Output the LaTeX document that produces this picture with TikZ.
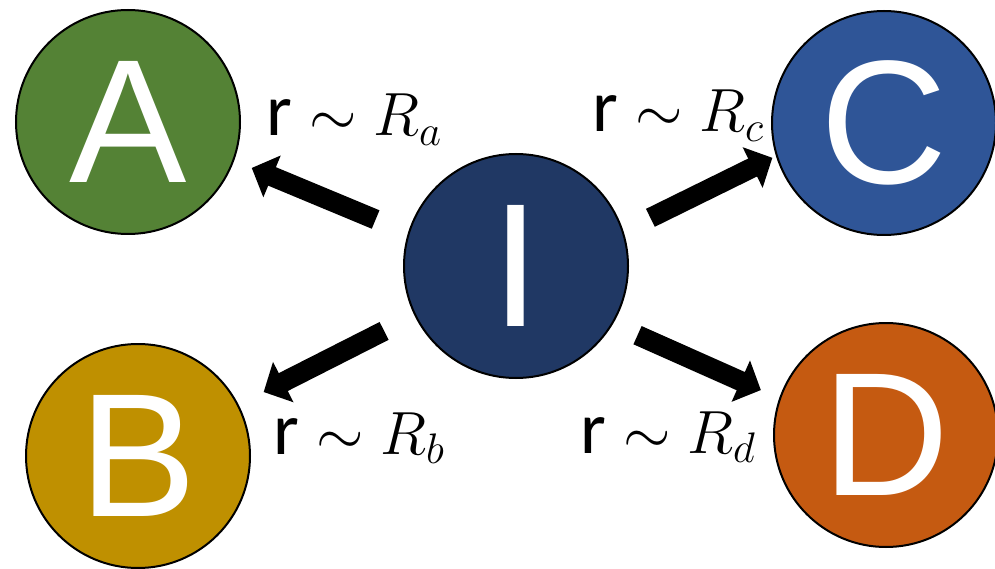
\RequirePackage{fix-cm}
\documentclass[tikz,border=0pt]{standalone}
\usepackage{fontspec}
\setmainfont{Liberation Sans}
\newfontfamily\rfont{Carlito}
\usepackage{tikz}
\usetikzlibrary{positioning,arrows.meta}

\definecolor{ballgreen}{HTML}{548235}
\definecolor{ballgold}{HTML}{BF9000}
\definecolor{ballblue}{HTML}{2F5597}
\definecolor{ballnavy}{HTML}{203864}
\definecolor{ballorange}{HTML}{C55A11}

\newcommand{\rlab}[1]{{\rfont\fontsize{74}{74}\selectfont r}\ $\sim R_{#1}$}

\begin{document}
\begin{tikzpicture}[x=1pt, y=1pt,
    ball/.style={draw=black, line width=2pt, circle, minimum size=224pt, inner sep=0pt, text=white, font=\fontsize{176}{176}\selectfont},
    bigarrow/.style={line width=20pt, -{Triangle[width=44pt,length=22pt]}},
    ratelabel/.style={anchor=base, inner sep=0pt, font=\fontsize{61}{61}\selectfont}]
    \useasboundingbox (0,0) rectangle (995,-569);

    % states
    \node[ball, fill=ballnavy] (I) at (516,-266) {I};
    \node[ball, fill=ballgreen] (A) at (128,-122) {A};
    \node[ball, fill=ballgold] (B) at (138,-456) {B};
    \node[ball, fill=ballblue] (C) at (884,-123) {C};
    \node[ball, fill=ballorange] (D) at (886,-435) {D};

    % transitions
    \draw[bigarrow, shorten <=35pt, shorten >=19pt] (I.163.5) -- (A.-20.4);
    \draw[bigarrow, shorten <=34pt, shorten >=28pt] (I.206.7) -- (B.27.8);
    \draw[bigarrow, shorten <=30pt, shorten >=4pt] (I.18.8) -- (C.197.4);
    \draw[bigarrow, shorten <=27pt, shorten >=20pt] (I.-31.3) -- (D.161.6);

    % rates
    \node[ratelabel] (la) at (354,-136) {\rlab{a}};
    \node[ratelabel] (lb) at (359,-454) {\rlab{b}};
    \node[ratelabel] (lc) at (678,-132) {\rlab{c}};
    \node[ratelabel] (ld) at (668,-453) {\rlab{d}};
\end{tikzpicture}
\end{document}
